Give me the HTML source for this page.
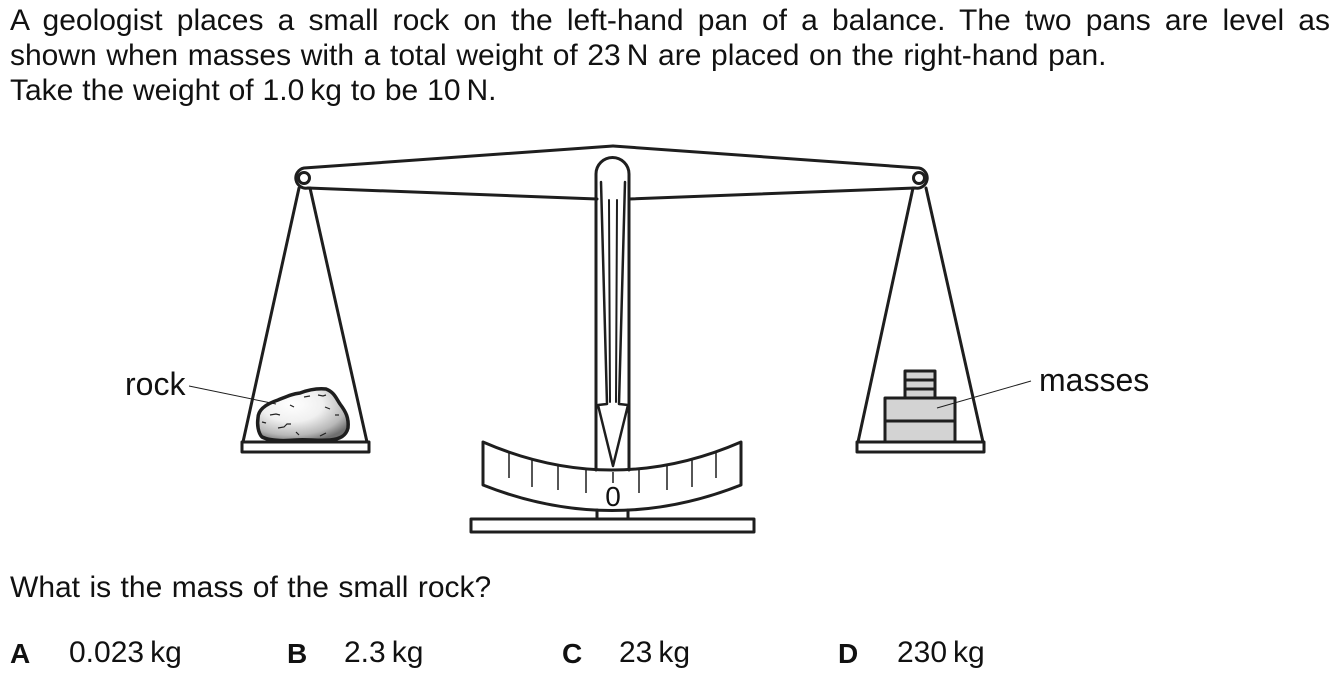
<!DOCTYPE html>
<html>
<head>
<meta charset="utf-8">
<style>
  html, body { margin:0; padding:0; background:#fff; }
  body { width:1338px; height:678px; overflow:hidden; position:relative; }
  svg { display:block; position:absolute; left:0; top:0; }
  text { font-family: "Liberation Sans", Arial, sans-serif; fill:#111; }
  .t { position:absolute; font-family: "Liberation Sans", Arial, sans-serif; font-size:30px; line-height:30px; color:#111; white-space:nowrap; }
  .j { text-align:justify; text-align-last:justify; white-space:normal; }
  .b { font-weight:bold; font-size:28px; }
</style>
</head>
<body>
<svg width="1338" height="678" viewBox="0 0 1338 678" xmlns="http://www.w3.org/2000/svg">
  <defs>
    <radialGradient id="rockg" cx="0.38" cy="0.3" r="0.75">
      <stop offset="0" stop-color="#ffffff"/>
      <stop offset="0.45" stop-color="#f0f0f0"/>
      <stop offset="0.8" stop-color="#b8b8b8"/>
      <stop offset="1" stop-color="#707070"/>
    </radialGradient>
  </defs>

  <g fill="none" stroke="#1e1e1e" stroke-width="3" stroke-linejoin="round" stroke-linecap="round">
    <!-- Beam -->
    <path d="M 613 146 L 304 168 A 10 10 0 0 0 308 188 L 597 199"/>
    <path d="M 613 146 L 919 168 A 10 10 0 0 1 915 188 L 629 199"/>
    <circle cx="304" cy="178" r="5.5" fill="#fff"/>
    <circle cx="919" cy="178" r="5.5" fill="#fff"/>

    <!-- Left strings -->
    <line x1="299" y1="188" x2="243" y2="442"/>
    <line x1="310" y1="188" x2="367" y2="442"/>
    <!-- Right strings -->
    <line x1="913" y1="188" x2="858" y2="442"/>
    <line x1="926" y1="188" x2="983" y2="442"/>

    <!-- Pans -->
    <rect x="242" y="442" width="127" height="10" fill="#fff"/>
    <rect x="857" y="442" width="127" height="10" fill="#fff"/>

    <!-- Masses -->
    <rect x="885" y="398" width="70" height="44" fill="#d3d3d3"/>
    <line x1="885" y1="421" x2="955" y2="421"/>
    <rect x="905" y="371" width="30" height="27" fill="#d3d3d3"/>
    <line x1="905" y1="380" x2="935" y2="380"/>
    <line x1="905" y1="389" x2="935" y2="389"/>

    <!-- Rock -->
    <path d="M 258 418 C 258 410 266 404 278 400 C 288 396 292 394 300 393 C 308 390 316 388 326 389 C 334 392 336 398 340 404 C 346 412 349 418 348 428 C 346 436 340 439 330 440 C 318 441 306 439 296 440 C 284 441 270 441 262 437 C 258 433 257 424 258 418 Z" fill="url(#rockg)" stroke-width="3.5"/>

    <!-- Pointer capsule -->
    <path d="M 596 470 L 596 174 A 16.5 16.5 0 0 1 629 174 L 629 470"/>
    <!-- Needle -->
    <path d="M 601 182 L 607 404 L 598 405 L 613 466 L 628 405 L 619 404 L 625 182" stroke-width="2.5"/>
    <path d="M 609 200 L 610 402 M 617 200 L 616 402" stroke-width="2"/>

    <!-- Scale plate -->
    <path d="M 483 442 Q 612 498 741 442 L 741 485 Q 612 536 483 485 Z" fill="none"/>

    <!-- Stand -->
    <line x1="597" y1="510" x2="597" y2="519"/>
    <line x1="628" y1="510" x2="628" y2="519"/>
    <rect x="471" y="519" width="283" height="13" fill="#fff"/>
  </g>

  <!-- Rock cracks -->
  <g fill="none" stroke="#222" stroke-width="1.2">
    <path d="M 270 415 l 6 -1 l 4 1"/>
    <path d="M 290 405 l 4 2"/>
    <path d="M 304 397 l 6 -1"/>
    <path d="M 318 395 l 5 1 l 3 -1"/>
    <path d="M 325 407 l 5 2"/>
    <path d="M 278 428 l 6 -1 l 3 -3 l 4 0"/>
    <path d="M 296 432 l 3 3"/>
    <path d="M 320 436 l 6 -3"/>
    <path d="M 335 415 l 4 0"/>
    <path d="M 262 422 l 4 1"/>
  </g>

  <!-- Scale ticks -->
  <g stroke="#1e1e1e" stroke-width="1.5">
    <line x1="509" y1="452" x2="509" y2="478"/>
    <line x1="532" y1="459" x2="532" y2="487"/>
    <line x1="558" y1="465" x2="558" y2="490"/>
    <line x1="586" y1="469" x2="586" y2="493"/>
    <line x1="613" y1="472" x2="613" y2="483"/>
    <line x1="639" y1="469" x2="639" y2="493"/>
    <line x1="667" y1="465" x2="667" y2="490"/>
    <line x1="692" y1="459" x2="692" y2="487"/>
    <line x1="716" y1="452" x2="716" y2="478"/>
  </g>
  <text x="613" y="506" font-size="28" text-anchor="middle">0</text>

  <!-- Leaders -->
  <g stroke="#1e1e1e" stroke-width="1">
    <line x1="189" y1="386" x2="276" y2="404"/>
    <line x1="1031" y1="381" x2="937" y2="408"/>
  </g>
  <text x="125" y="395" font-size="32">rock</text>
  <text x="1039" y="391" font-size="32">masses</text>
</svg>

<!-- Text lines (baseline ≈ top + 25.4) -->
<div class="t j" style="left:10px; top:6px; width:1320px;">A geologist places a small rock on the left-hand pan of a balance. The two pans are level as</div>
<div class="t" style="left:10px; top:41px; word-spacing:1.3px;">shown when masses with a total weight of 23&#8201;N are placed on the right-hand pan.</div>
<div class="t" style="left:10px; top:76px; word-spacing:0.6px;">Take the weight of 1.0&#8201;kg to be 10&#8201;N.</div>

<div class="t" style="left:10px; top:573px; word-spacing:1.1px;">What is the mass of the small rock?</div>

<div class="t b" style="left:10px; top:639px;">A</div>
<div class="t" style="left:69px; top:638px;">0.023&#8201;kg</div>
<div class="t b" style="left:287px; top:639px;">B</div>
<div class="t" style="left:344px; top:638px;">2.3&#8201;kg</div>
<div class="t b" style="left:562px; top:639px;">C</div>
<div class="t" style="left:619px; top:638px;">23&#8201;kg</div>
<div class="t b" style="left:838px; top:639px;">D</div>
<div class="t" style="left:897px; top:638px;">230&#8201;kg</div>
</body>
</html>
